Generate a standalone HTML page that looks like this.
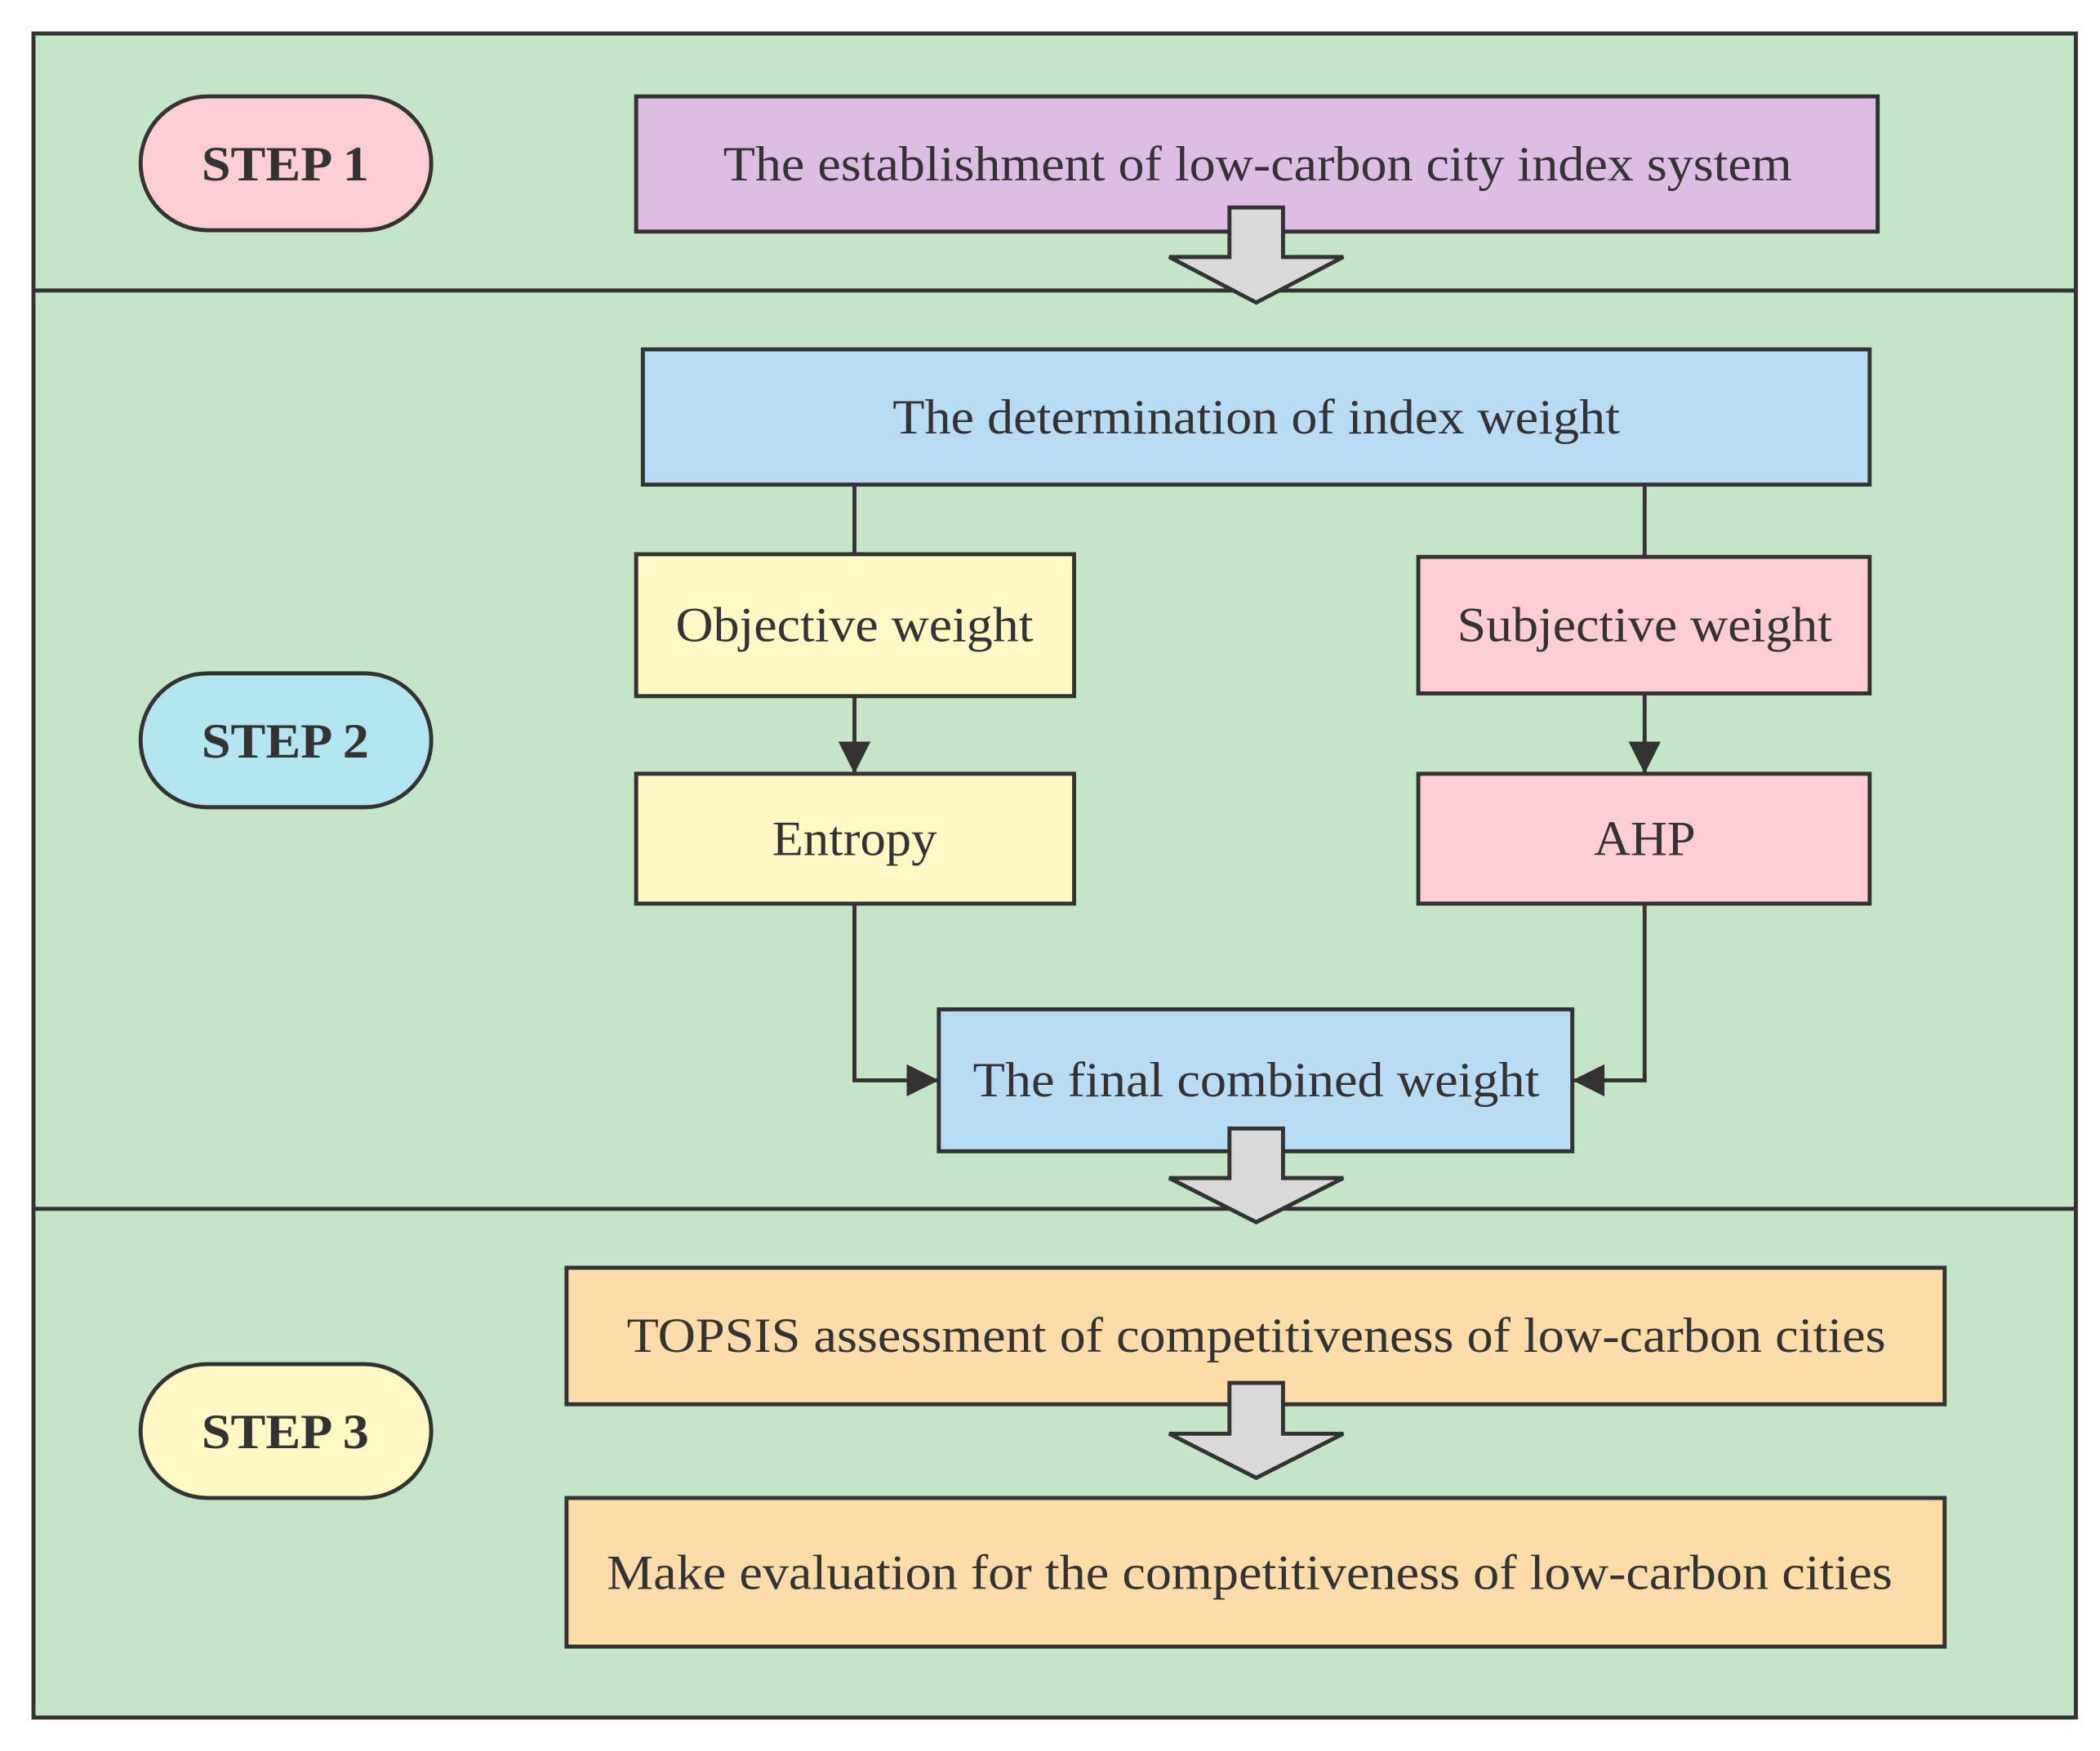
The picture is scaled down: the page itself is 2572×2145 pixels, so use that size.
<!DOCTYPE html>
<html><head><meta charset="utf-8"><style>
html,body{margin:0;padding:0;background:#fff;}
svg{display:block;}
text{font-family:"Liberation Serif",serif;fill:#333;}
</style></head><body>
<svg width="2572" height="2145" viewBox="0 0 1568 1308" preserveAspectRatio="none" xmlns="http://www.w3.org/2000/svg">
<defs>
<marker id="ah2" viewBox="0 0 10 10" refX="10" refY="5" markerWidth="28" markerHeight="24" markerUnits="userSpaceOnUse" orient="auto">
<path d="M0,0 L10,5 L0,10 z" fill="#333"/></marker>
</defs>
<rect x="0" y="0" width="1568" height="1308" fill="#fff"/>
<rect x="25" y="25" width="1525" height="1258" fill="#c5e5c9" stroke="#333" stroke-width="3"/>
<line x1="25" y1="217" x2="1550" y2="217" stroke="#333" stroke-width="3"/>
<line x1="25" y1="903" x2="1550" y2="903" stroke="#333" stroke-width="3"/>

<g stroke="#333" stroke-width="3">
<rect x="105" y="72" width="217" height="100" rx="50" fill="#fccdd4"/>
<rect x="105" y="503" width="217" height="100" rx="50" fill="#b3e5f0"/>
<rect x="105" y="1019" width="217" height="100" rx="50" fill="#fef8c5"/>
<rect x="475" y="72" width="927" height="101" fill="#dcbde3"/>
<rect x="480" y="261" width="916" height="101" fill="#b9dcf5"/>
<rect x="475" y="414" width="327" height="106" fill="#fef8c5"/>
<rect x="1059" y="416" width="337" height="102" fill="#fccdd4"/>
<rect x="475" y="578" width="327" height="97" fill="#fef8c5"/>
<rect x="1059" y="578" width="337" height="97" fill="#fccdd4"/>
<rect x="701" y="754" width="473" height="106" fill="#b9dcf5"/>
<rect x="423" y="947" width="1029" height="102" fill="#fddcaa"/>
<rect x="423" y="1119" width="1029" height="111" fill="#fddcaa"/>
<path d="M918,155 H958 V192 H1003 L938,226 L873,192 H918 Z" fill="#d9d9d9"/>
<path d="M918,843 H958 V880 H1003 L938,913 L873,880 H918 Z" fill="#d9d9d9"/>
<path d="M918,1033 H958 V1071 H1003 L938,1104 L873,1071 H918 Z" fill="#d9d9d9"/>
<line x1="638" y1="362" x2="638" y2="414" fill="none"/>
<line x1="1228" y1="362" x2="1228" y2="416" fill="none"/>
<line x1="638" y1="520" x2="638" y2="578" fill="none" marker-end="url(#ah2)"/>
<line x1="1228" y1="518" x2="1228" y2="578" fill="none" marker-end="url(#ah2)"/>
<polyline points="638,675 638,807 701,807" fill="none" marker-end="url(#ah2)"/>
<polyline points="1228,675 1228,807 1174,807" fill="none" marker-end="url(#ah2)"/>
</g>

<g font-size="37" text-anchor="middle" dominant-baseline="central">
<text x="213" y="123" font-weight="bold" textLength="125" lengthAdjust="spacingAndGlyphs">STEP 1</text>
<text x="213" y="554" font-weight="bold" textLength="125" lengthAdjust="spacingAndGlyphs">STEP 2</text>
<text x="213" y="1070" font-weight="bold" textLength="125" lengthAdjust="spacingAndGlyphs">STEP 3</text>
<text x="939" y="123" textLength="798" lengthAdjust="spacingAndGlyphs">The establishment of low-carbon city index system</text>
<text x="938" y="312" textLength="543" lengthAdjust="spacingAndGlyphs">The determination of index weight</text>
<text x="638" y="467" textLength="267" lengthAdjust="spacingAndGlyphs">Objective weight</text>
<text x="1228" y="467" textLength="280" lengthAdjust="spacingAndGlyphs">Subjective weight</text>
<text x="638" y="627" textLength="123" lengthAdjust="spacingAndGlyphs">Entropy</text>
<text x="1228" y="627" textLength="76" lengthAdjust="spacingAndGlyphs">AHP</text>
<text x="938" y="807" textLength="423" lengthAdjust="spacingAndGlyphs">The final combined weight</text>
<text x="938" y="998" textLength="940" lengthAdjust="spacingAndGlyphs">TOPSIS assessment of competitiveness of low-carbon cities</text>
<text x="933" y="1175" textLength="960" lengthAdjust="spacingAndGlyphs">Make evaluation for the competitiveness of low-carbon cities</text>
</g>
</svg>
</body></html>
